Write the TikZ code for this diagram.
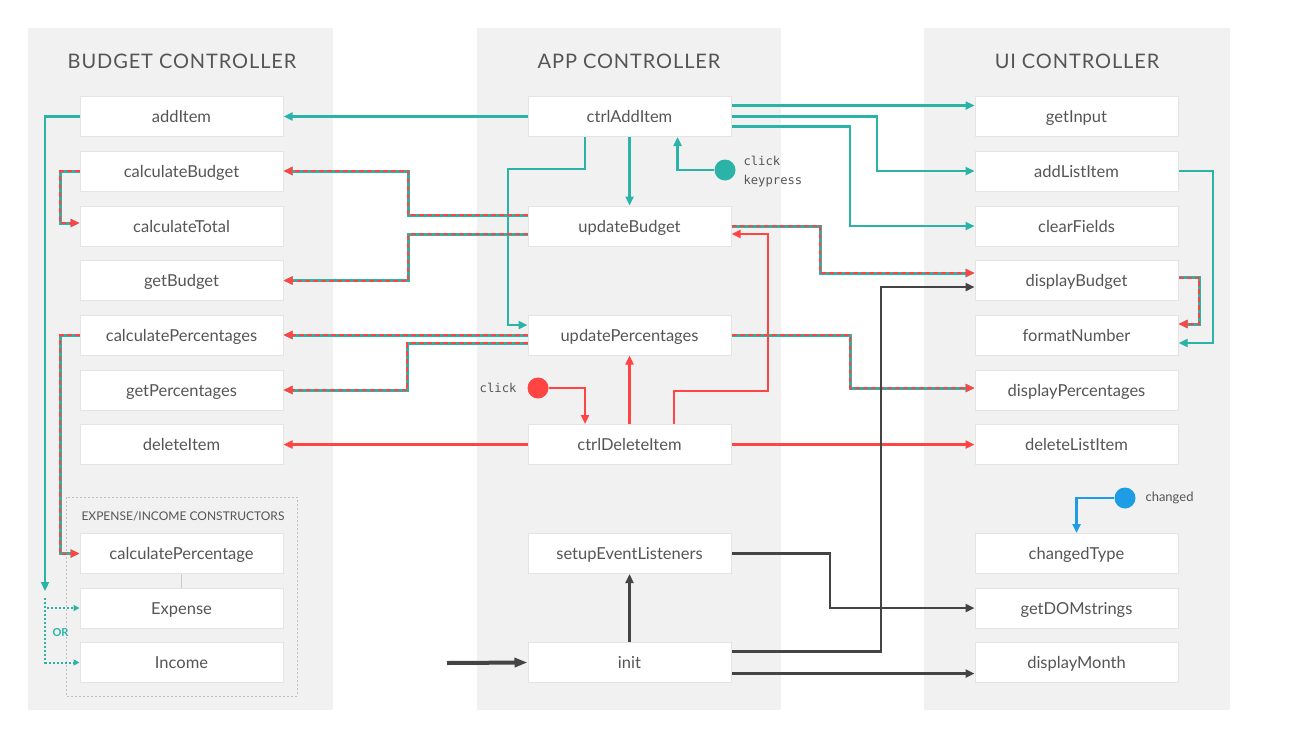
\documentclass[tikz,border=0pt]{standalone}
\usepackage{fontspec}
\setmainfont{Lato}
\newfontfamily\codefont{DejaVu Sans Mono}
\newfontfamily\headfont[LetterSpace=4.5]{Lato}
\usetikzlibrary{arrows.meta}

\definecolor{colbg}{HTML}{F1F1F1}
\definecolor{boxline}{HTML}{E4E4E4}
\definecolor{txt}{HTML}{555555}
\definecolor{tealc}{HTML}{2AB3A6}
\definecolor{redc}{HTML}{FF4444}
\definecolor{darkc}{HTML}{444444}
\definecolor{bluec}{HTML}{1E9DE6}

\begin{document}
\begin{tikzpicture}[x=1pt,y=-1pt,
  fn/.style={draw=boxline, line width=1pt, fill=white, minimum width=203pt,
    minimum height=40pt, inner sep=0pt, text height=12.8pt, text depth=0pt,
    text=txt, font=\fontsize{16.5}{18}\selectfont},
  head/.style={text=txt, font=\headfont\fontsize{20}{22}\selectfont},
  arr/.style={-{Triangle[length=9pt,width=8pt]}},
  tealln/.style={arr, draw=tealc, line width=2.5pt},
  redln/.style={arr, draw=redc, line width=2.5pt},
  darkln/.style={arr, draw=darkc, line width=2.5pt},
  blueln/.style={arr, draw=bluec, line width=2.5pt},
  tealdot/.style={-{Triangle[length=6pt,width=6pt]}, draw=tealc, line width=2pt,
    dash pattern=on 2pt off 2pt},
  dual/.style={arr, draw=redc, line width=2pt, dash pattern=on 5pt off 3pt,
    preaction={draw=tealc, line width=3pt, solid}},
  dot/.style={circle, inner sep=0pt, minimum size=21pt},
  code/.style={text=txt, font=\codefont\fontsize{12.2}{19}\selectfont},
]
\useasboundingbox (0,0) rectangle (1290,755);
\fill[white] (0,0) rectangle (1290,755);

% column panels
\fill[colbg] (28,28) rectangle (333,710);
\fill[colbg] (477,28) rectangle (781,710);
\fill[colbg] (924,28) rectangle (1230,710);

\node[head] (hb) at (182,61) {BUDGET CONTROLLER};
\node[head] (ha) at (629,61) {APP CONTROLLER};
\node[head] (hu) at (1077,61) {UI CONTROLLER};

% budget controller
\node[fn] (additem) at (181.5,116.5) {addItem};
\node[fn] (cb) at (181.5,171) {calculateBudget};
\node[fn] (ct) at (181.5,226) {calculateTotal};
\node[fn] (gb) at (181.5,280.5) {getBudget};
\node[fn] (cpcts) at (181.5,335) {calculatePercentages};
\node[fn] (gp) at (181.5,390) {getPercentages};
\node[fn] (di) at (181.5,444.5) {deleteItem};

% constructors group
\draw[draw=black!25, line width=1pt, dash pattern=on 2pt off 2pt] (66,497) rectangle (297,696);
\node[anchor=west, text=txt, font=\fontsize{12}{13}\selectfont] (cons) at (78,516) {EXPENSE/INCOME CONSTRUCTORS};
\node[fn] (cp1) at (181.5,553.5) {calculatePercentage};
\node[fn] (exp) at (181.5,608) {Expense};
\node[fn] (inc) at (181.5,662.5) {Income};
\draw[black!20, line width=1.5pt] (cp1.south) -- (exp.north);

% app controller
\node[fn] (cai) at (629.5,116.5) {ctrlAddItem};
\node[fn] (ub) at (629.5,226) {updateBudget};
\node[fn] (upct) at (629.5,335) {updatePercentages};
\node[fn] (cdi) at (629.5,444.5) {ctrlDeleteItem};
\node[fn] (sel) at (629.5,553.5) {setupEventListeners};
\node[fn] (init) at (629.5,662.5) {init};

% ui controller
\node[fn] (gi) at (1076.5,116.5) {getInput};
\node[fn] (ali) at (1076.5,171) {addListItem};
\node[fn] (cf) at (1076.5,226) {clearFields};
\node[fn] (db) at (1076.5,280.5) {displayBudget};
\node[fn] (fmt) at (1076.5,335) {formatNumber};
\node[fn] (dp) at (1076.5,390) {displayPercentages};
\node[fn] (dli) at (1076.5,444.5) {deleteListItem};
\node[fn] (chgt) at (1076.5,553.5) {changedType};
\node[fn] (dom) at (1076.5,608) {getDOMstrings};
\node[fn] (dm) at (1076.5,662.5) {displayMonth};

% add item flow
\draw[tealln] (cai.west) -- (additem.east);
\draw[tealln] (additem.west) -| (45,591);
\coordinate (orsplit) at (45,598);
\draw[tealdot] (orsplit) |- (exp.west);
\draw[tealdot] (orsplit) |- (inc.west);
\node[text=tealc, font=\bfseries\fontsize{11}{12}\selectfont] (orlbl) at (60.5,633) {OR};
\draw[tealln] ([xshift=-44.5pt]cai.south) |- (508,169) |- ([yshift=10pt]upct.west);
\draw[tealln] (cai.south) -- (ub.north);
\node[dot, fill=tealc] (clk1) at (725,170) {};
\draw[tealln] (clk1.west) -| ([xshift=48pt]cai.south);
\node[code, anchor=west, align=left] (clk1lbl) at (740,171.5) {click\\keypress};
\draw[tealln] ([yshift=11pt]cai.east) -- ([yshift=11pt]gi.west);
\draw[tealln] (cai.east) -- (877,116.5) |- (ali.west);
\draw[tealln] ([yshift=-10pt]cai.east) -- (850,126.5) |- (cf.west);
\draw[tealln] (ali.east) -- (1213,171) |- ([yshift=-8pt]fmt.east);

% budget / percentage updates
\draw[dual] ([yshift=11pt]ub.west) -- (408,215) |- (cb.east);
\draw[dual] ([yshift=-8pt]ub.west) -- (408,234) |- (gb.east);
\draw[dual] (cb.west) -- (60,171) |- ([yshift=3pt]ct.west);
\draw[dual] (ub.east) -- (820,226) |- ([yshift=7.5pt]db.west);
\draw[dual] ([yshift=3pt]db.east) -- (1199,277.5) |- ([yshift=11pt]fmt.east);
\draw[dual] (upct.west) -- (cpcts.east);
\draw[dual] ([yshift=-8pt]upct.west) -- (407,343) |- (gp.east);
\draw[dual] (upct.east) -- (850,335) |- ([yshift=2pt]dp.west);
\draw[dual] (cpcts.west) -- (60,335) |- (cp1.west);

% delete item flow
\draw[redln] (cdi.west) -- (di.east);
\draw[redln] (cdi.east) -- (dli.west);
\node[dot, fill=redc] (clk2) at (538,388) {};
\node[code, anchor=east] (clk2lbl) at (520,388) {click};
\draw[redln] (clk2.east) -| ([xshift=-44.5pt]cdi.north);
\draw[redln] (cdi.north) -- (upct.south);
\draw[redln] ([xshift=44.5pt]cdi.north) |- (768,391) |- ([yshift=-8pt]ub.east);

% init flow
\coordinate (start) at (447,663);
\draw[-{Triangle[length=13pt,width=9pt]}, draw=darkc, line width=4pt] (start) -- (init.west);
\draw[darkln] (init.north) -- (sel.south);
\draw[darkln] (sel.east) -- (830,553.5) |- (dom.west);
\draw[darkln] ([yshift=11pt]init.east) -- (881,651.5) |- ([yshift=-6.5pt]db.west);
\draw[darkln] ([yshift=-11pt]init.east) -- ([yshift=-11pt]dm.west);

% type change
\node[dot, fill=bluec] (chg) at (1125,498) {};
\draw[blueln] (chg.west) -| (chgt.north);
\node[anchor=west, text=txt, font=\fontsize{13}{14}\selectfont] (chglbl) at (1142,498) {changed};
\end{tikzpicture}
\end{document}
